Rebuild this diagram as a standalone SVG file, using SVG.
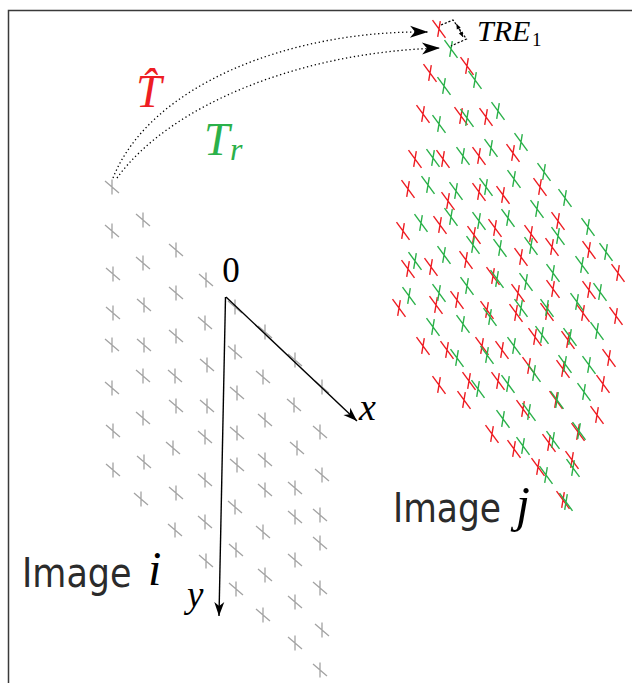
<svg xmlns="http://www.w3.org/2000/svg" xmlns:xlink="http://www.w3.org/1999/xlink" width="632" height="683" viewBox="0 0 632 683">
<style>
.g{stroke:#a3a3a3;stroke-width:1.3;fill:none}
.r{stroke:#ee1d23;stroke-width:1.4;fill:none}
.gr{stroke:#2bb14a;stroke-width:1.4;fill:none}
.ax{stroke:#000;stroke-width:1.4;fill:none}
.dot{stroke:#000;stroke-width:1.3;fill:none;stroke-dasharray:1.3 2.7}
.lab{font-family:"DejaVu Sans",sans-serif;fill:#2b2b2b}
.math{font-family:"Liberation Serif","DejaVu Serif",serif;font-style:italic}
</style>
<defs>
<path id="mg" d="M0,-7.5 V7.5 M-7,-6 L7,6"/>
<path id="mx" d="M-6.5,-8.8 L6.5,8.8 M1.3,-7.8 L-1.3,7.8"/>
<marker id="ah" viewBox="-20 -8 22 16" markerWidth="22" markerHeight="16" refX="0" refY="0" orient="auto" markerUnits="userSpaceOnUse">
<path d="M0,0 L-18,-6 L-13,0 L-18,6 Z" fill="#000"/>
</marker>
<marker id="aa" viewBox="-16 -6 18 12" markerWidth="18" markerHeight="12" refX="0" refY="0" orient="auto" markerUnits="userSpaceOnUse">
<path d="M0,0 L-14,-5 L-10,0 L-14,5 Z" fill="#000"/>
</marker>
<marker id="sm" viewBox="-6 -3 7 6" markerWidth="7" markerHeight="6" refX="0" refY="0" orient="auto-start-reverse" markerUnits="userSpaceOnUse">
<path d="M0,0 L-5,-2.2 L-5,2.2 Z" fill="#000"/>
</marker>
</defs>

<path d="M8.5,683 V10.5 H632" stroke="#3a3a3a" stroke-width="1.5" fill="none"/>

<g id="grid-i" class="g">
<use xlink:href="#mg" x="112" y="187"/><use xlink:href="#mg" x="112" y="231"/><use xlink:href="#mg" x="113" y="274"/><use xlink:href="#mg" x="113" y="313"/><use xlink:href="#mg" x="112" y="345"/><use xlink:href="#mg" x="112" y="388"/><use xlink:href="#mg" x="113" y="431"/><use xlink:href="#mg" x="113" y="470"/>
<use xlink:href="#mg" x="143" y="220"/><use xlink:href="#mg" x="143" y="263"/><use xlink:href="#mg" x="144" y="305"/><use xlink:href="#mg" x="144" y="345"/><use xlink:href="#mg" x="143" y="376"/><use xlink:href="#mg" x="143" y="418"/><use xlink:href="#mg" x="144" y="462"/><use xlink:href="#mg" x="141" y="499"/>
<use xlink:href="#mg" x="176" y="250"/><use xlink:href="#mg" x="176" y="293"/><use xlink:href="#mg" x="176" y="336"/><use xlink:href="#mg" x="175" y="376"/><use xlink:href="#mg" x="176" y="406"/><use xlink:href="#mg" x="173" y="448"/><use xlink:href="#mg" x="176" y="493"/><use xlink:href="#mg" x="175" y="530"/>
<use xlink:href="#mg" x="206" y="280"/><use xlink:href="#mg" x="205" y="323"/><use xlink:href="#mg" x="207" y="365"/><use xlink:href="#mg" x="207" y="406"/><use xlink:href="#mg" x="205" y="437"/><use xlink:href="#mg" x="205" y="480"/><use xlink:href="#mg" x="205" y="522"/><use xlink:href="#mg" x="206" y="561"/>
<use xlink:href="#mg" x="235" y="307"/><use xlink:href="#mg" x="235" y="352"/><use xlink:href="#mg" x="237" y="393"/><use xlink:href="#mg" x="237" y="433"/><use xlink:href="#mg" x="237" y="465"/><use xlink:href="#mg" x="235" y="507"/><use xlink:href="#mg" x="236" y="550"/><use xlink:href="#mg" x="236" y="589"/>
<use xlink:href="#mg" x="265" y="332"/><use xlink:href="#mg" x="263" y="377"/><use xlink:href="#mg" x="265" y="420"/><use xlink:href="#mg" x="265" y="460"/><use xlink:href="#mg" x="265" y="490"/><use xlink:href="#mg" x="263" y="532"/><use xlink:href="#mg" x="265" y="575"/><use xlink:href="#mg" x="263" y="615"/>
<use xlink:href="#mg" x="295" y="360"/><use xlink:href="#mg" x="294" y="405"/><use xlink:href="#mg" x="297" y="448"/><use xlink:href="#mg" x="295" y="488"/><use xlink:href="#mg" x="295" y="517"/><use xlink:href="#mg" x="295" y="560"/><use xlink:href="#mg" x="295" y="602"/><use xlink:href="#mg" x="295" y="643"/>
<use xlink:href="#mg" x="322" y="387"/><use xlink:href="#mg" x="320" y="432"/><use xlink:href="#mg" x="322" y="475"/><use xlink:href="#mg" x="320" y="515"/><use xlink:href="#mg" x="320" y="543"/><use xlink:href="#mg" x="320" y="588"/><use xlink:href="#mg" x="322" y="630"/><use xlink:href="#mg" x="320" y="670"/>
</g>

<g id="grid-j-estimated" class="r">
<use xlink:href="#mx" x="439" y="29"/><use xlink:href="#mx" x="467" y="66"/><use xlink:href="#mx" x="430" y="73"/><use xlink:href="#mx" x="423" y="114"/><use xlink:href="#mx" x="461" y="116"/><use xlink:href="#mx" x="486" y="117"/><use xlink:href="#mx" x="415" y="159"/><use xlink:href="#mx" x="443" y="159"/>
<use xlink:href="#mx" x="479" y="156"/><use xlink:href="#mx" x="513" y="153"/><use xlink:href="#mx" x="408" y="189"/><use xlink:href="#mx" x="448" y="201"/><use xlink:href="#mx" x="479" y="192"/><use xlink:href="#mx" x="503" y="195"/><use xlink:href="#mx" x="540" y="187"/><use xlink:href="#mx" x="440" y="225"/>
<use xlink:href="#mx" x="403" y="231"/><use xlink:href="#mx" x="474" y="235"/><use xlink:href="#mx" x="495" y="228"/><use xlink:href="#mx" x="531" y="234"/><use xlink:href="#mx" x="558" y="221"/><use xlink:href="#mx" x="552" y="247"/><use xlink:href="#mx" x="589" y="250"/><use xlink:href="#mx" x="408" y="269"/>
<use xlink:href="#mx" x="431" y="267"/><use xlink:href="#mx" x="466" y="260"/><use xlink:href="#mx" x="521" y="257"/><use xlink:href="#mx" x="618" y="273"/><use xlink:href="#mx" x="493" y="276"/><use xlink:href="#mx" x="553" y="289"/><use xlink:href="#mx" x="589" y="290"/><use xlink:href="#mx" x="399" y="308"/>
<use xlink:href="#mx" x="436" y="305"/><use xlink:href="#mx" x="457" y="300"/><use xlink:href="#mx" x="518" y="293"/><use xlink:href="#mx" x="516" y="313"/><use xlink:href="#mx" x="487" y="310"/><use xlink:href="#mx" x="547" y="312"/><use xlink:href="#mx" x="583" y="313"/><use xlink:href="#mx" x="616" y="316"/>
<use xlink:href="#mx" x="535" y="337"/><use xlink:href="#mx" x="568" y="340"/><use xlink:href="#mx" x="423" y="346"/><use xlink:href="#mx" x="447" y="350"/><use xlink:href="#mx" x="482" y="346"/><use xlink:href="#mx" x="502" y="350"/><use xlink:href="#mx" x="609" y="358"/><use xlink:href="#mx" x="529" y="366"/>
<use xlink:href="#mx" x="563" y="369"/><use xlink:href="#mx" x="439" y="385"/><use xlink:href="#mx" x="469" y="381"/><use xlink:href="#mx" x="498" y="381"/><use xlink:href="#mx" x="603" y="384"/><use xlink:href="#mx" x="464" y="400"/><use xlink:href="#mx" x="556" y="400"/><use xlink:href="#mx" x="523" y="409"/>
<use xlink:href="#mx" x="597" y="415"/><use xlink:href="#mx" x="492" y="434"/><use xlink:href="#mx" x="514" y="449"/><use xlink:href="#mx" x="549" y="443"/><use xlink:href="#mx" x="578" y="432"/><use xlink:href="#mx" x="572" y="460"/><use xlink:href="#mx" x="538" y="467"/><use xlink:href="#mx" x="563" y="500"/>
</g>

<g id="grid-j-true" class="gr">
<use xlink:href="#mx" x="451" y="49"/><use xlink:href="#mx" x="444" y="86"/><use xlink:href="#mx" x="475" y="80"/><use xlink:href="#mx" x="439" y="124"/><use xlink:href="#mx" x="467" y="118"/><use xlink:href="#mx" x="498" y="111"/><use xlink:href="#mx" x="521" y="142"/><use xlink:href="#mx" x="433" y="158"/>
<use xlink:href="#mx" x="463" y="156"/><use xlink:href="#mx" x="491" y="148"/><use xlink:href="#mx" x="544" y="172"/><use xlink:href="#mx" x="428" y="185"/><use xlink:href="#mx" x="456" y="191"/><use xlink:href="#mx" x="486" y="187"/><use xlink:href="#mx" x="514" y="179"/><use xlink:href="#mx" x="565" y="198"/>
<use xlink:href="#mx" x="421" y="223"/><use xlink:href="#mx" x="451" y="217"/><use xlink:href="#mx" x="479" y="221"/><use xlink:href="#mx" x="508" y="218"/><use xlink:href="#mx" x="558" y="236"/><use xlink:href="#mx" x="537" y="209"/><use xlink:href="#mx" x="588" y="227"/><use xlink:href="#mx" x="473" y="245"/>
<use xlink:href="#mx" x="500" y="248"/><use xlink:href="#mx" x="531" y="246"/><use xlink:href="#mx" x="606" y="252"/><use xlink:href="#mx" x="415" y="261"/><use xlink:href="#mx" x="444" y="255"/><use xlink:href="#mx" x="582" y="265"/><use xlink:href="#mx" x="553" y="273"/><use xlink:href="#mx" x="497" y="279"/>
<use xlink:href="#mx" x="467" y="286"/><use xlink:href="#mx" x="526" y="282"/><use xlink:href="#mx" x="600" y="292"/><use xlink:href="#mx" x="409" y="296"/><use xlink:href="#mx" x="439" y="293"/><use xlink:href="#mx" x="521" y="308"/><use xlink:href="#mx" x="490" y="317"/><use xlink:href="#mx" x="547" y="308"/>
<use xlink:href="#mx" x="577" y="302"/><use xlink:href="#mx" x="433" y="327"/><use xlink:href="#mx" x="463" y="324"/><use xlink:href="#mx" x="597" y="331"/><use xlink:href="#mx" x="542" y="335"/><use xlink:href="#mx" x="570" y="337"/><use xlink:href="#mx" x="457" y="358"/><use xlink:href="#mx" x="487" y="355"/>
<use xlink:href="#mx" x="514" y="346"/><use xlink:href="#mx" x="534" y="373"/><use xlink:href="#mx" x="565" y="364"/><use xlink:href="#mx" x="589" y="365"/><use xlink:href="#mx" x="478" y="389"/><use xlink:href="#mx" x="508" y="384"/><use xlink:href="#mx" x="584" y="392"/><use xlink:href="#mx" x="557" y="400"/>
<use xlink:href="#mx" x="529" y="412"/><use xlink:href="#mx" x="503" y="419"/><use xlink:href="#mx" x="523" y="446"/><use xlink:href="#mx" x="553" y="440"/><use xlink:href="#mx" x="579" y="431"/><use xlink:href="#mx" x="573" y="468"/><use xlink:href="#mx" x="546" y="475"/><use xlink:href="#mx" x="566" y="502"/>
</g>

<g id="connectors">
<path class="ax" d="M226,297 L357,421" marker-end="url(#aa)"/>
<path class="ax" d="M225.5,297 L219,616" marker-end="url(#aa)"/>
<path class="dot" d="M113,178 C150,85 290,30 428,32" marker-end="url(#ah)"/>
<path class="dot" d="M117,178 C170,105 300,52 440,48" marker-end="url(#ah)"/>
<path d="M441,25 L453,20 L466.5,39 L451,46" stroke="#000" stroke-width="1.2" fill="none" stroke-dasharray="2.2 1.8"/>
<path d="M456.5,24 L463,37" stroke="#000" stroke-width="0.9" fill="none" marker-start="url(#sm)" marker-end="url(#sm)"/>
</g>

<g id="labels">
<text x="231" y="282" font-family="Liberation Serif, DejaVu Serif, serif" font-size="35" text-anchor="middle" fill="#000">0</text>
<text class="math" x="359" y="420" font-size="38" fill="#000">x</text>
<text class="math" x="187" y="607" font-size="37" fill="#000">y</text>
<text class="lab" transform="translate(22,587) scale(1,1.17)" font-size="35">Image</text>
<text class="math" x="148" y="585" font-size="48" fill="#000">i</text>
<text class="lab" transform="translate(393,522) scale(1,1.17)" font-size="34.5">Image</text>
<text class="math" x="516" y="521" font-size="50" fill="#000">j</text>
<text class="math" x="136" y="107" font-size="46" fill="#ee1d23">T&#x302;</text>
<text class="math" x="204" y="155" font-size="46" fill="#2bb14a">T</text>
<text class="math" x="230" y="160" font-size="32" fill="#2bb14a">r</text>
<text class="math" x="477" y="41" font-size="30" fill="#000">TRE</text>
<text x="532" y="46" font-family="Liberation Serif, DejaVu Serif, serif" font-size="19" fill="#000">1</text>
</g>
</svg>
